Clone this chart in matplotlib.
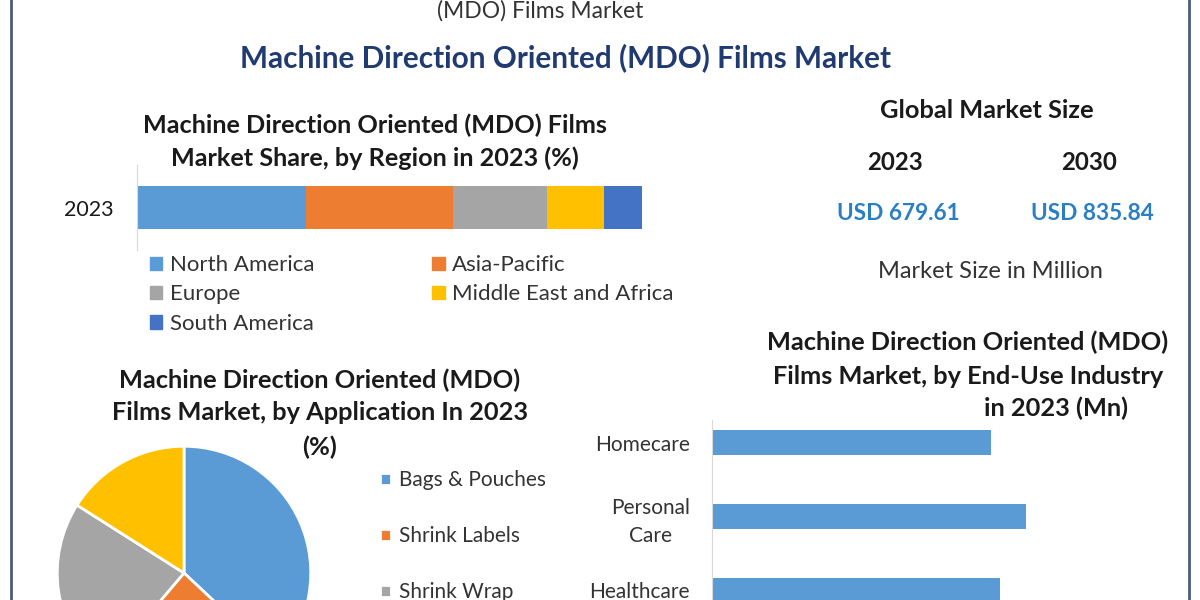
import matplotlib.pyplot as plt
from matplotlib.patches import Patch

plt.rcParams["font.family"] = ["Lato", "DejaVu Sans"]

W, H = 1200, 600

# market share by region, 2023 (%)
regions = ["North America", "Asia-Pacific", "Europe", "Middle East and Africa", "South America"]
region_share = [33.5, 29.1, 18.6, 11.3, 7.5]
region_colors = ["#5b9bd5", "#ed7d31", "#a5a5a5", "#ffc000", "#4472c4"]

# share by application, 2023 (%)
applications = ["Bags & Pouches", "Shrink Labels", "Shrink Wrap", "Others"]
application_share = [37.0, 24.2, 22.8, 16.0]
application_colors = ["#5b9bd5", "#ed7d31", "#a5a5a5", "#ffc000"]

# by end-use industry, 2023 (Mn)
end_use = ["Homecare", "Personal\nCare", "Healthcare"]
end_use_mn = [95.5, 107.5, 98.6]

# global market size (USD Mn)
size_years = ["2023", "2030"]
size_values = [679.61, 835.84]

DARK = "#1a1a1a"
TEXT = "#333333"
NAVY = "#203a72"
USD_BLUE = "#2a7fc4"


def box(x0, y0, x1, y1):
    # pixel box (y from top) -> figure fraction
    return [x0 / W, 1 - y1 / H, (x1 - x0) / W, (y1 - y0) / H]


fig = plt.figure(figsize=(12, 6), dpi=100)
fig.patch.set_facecolor("white")

canvas = fig.add_axes([0, 0, 1, 1])
canvas.set_xlim(0, W)
canvas.set_ylim(H, 0)
canvas.axis("off")

# frame lines
for x in (11, 1189):
    canvas.plot([x, x], [0, H], color="#4a5d75", lw=2)

# headers
canvas.text(540, 11, "(MDO) Films Market", ha="center", va="center", fontsize=16.5, color=TEXT)
canvas.text(566, 58, "Machine Direction Oriented (MDO) Films Market", ha="center", va="center",
            fontsize=21.4, fontweight="bold", color=NAVY)

# ---- region share stacked bar ----
canvas.text(375, 125, "Machine Direction Oriented (MDO) Films", ha="center", va="center",
            fontsize=18.2, fontweight="bold", color=DARK)
canvas.text(375, 158, "Market Share, by Region in 2023 (%)", ha="center", va="center",
            fontsize=18.2, fontweight="bold", color=DARK)

ax_r = fig.add_axes(box(137, 165, 642, 250))
ax_r.set_facecolor("none")
left = 0
for name, val, col in zip(regions, region_share, region_colors):
    ax_r.barh([0], [val], left=left, height=1.0, color=col, label=name)
    left += val
ax_r.set_xlim(0, 100)
ax_r.set_ylim(-1, 1)
ax_r.set_xticks([])
ax_r.set_yticks([0], ["2023"], fontsize=15.5, color=DARK)
ax_r.tick_params(axis="y", length=0, pad=17)
for s in ("top", "right", "bottom"):
    ax_r.spines[s].set_visible(False)
ax_r.spines["left"].set_color("#d9d9d9")

handles = [Patch(color=c) for c in region_colors]
order = [0, 2, 4, 1, 3]
fig.legend([handles[i] for i in order], [regions[i] for i in order],
           loc="upper left", bbox_to_anchor=(139 / W, 1 - 244 / H), ncol=2, frameon=False,
           fontsize=16, handlelength=0.55, handleheight=0.55, handletextpad=0.35,
           columnspacing=5.3, labelspacing=0.42, labelcolor=TEXT, borderpad=0)

# ---- global market size ----
canvas.text(987, 110, "Global Market Size", ha="center", va="center",
            fontsize=18.3, fontweight="bold", color=DARK)
for x, yr, val in zip((895, 1089), size_years, size_values):
    canvas.text(x, 162, yr, ha="center", va="center", fontsize=17.3, fontweight="bold", color=DARK)
    canvas.text(x + 3, 214, f"USD {val:.2f}", ha="center", va="center",
                fontsize=16.3, fontweight="bold", color=USD_BLUE)
canvas.text(990, 271, "Market Size in Million", ha="center", va="center", fontsize=17, color=TEXT)

# ---- application pie ----
for y, line in zip((380, 413, 447), ("Machine Direction Oriented (MDO)",
                                     "Films Market, by Application In 2023", "(%)")):
    canvas.text(320, y, line, ha="center", va="center", fontsize=18.3, fontweight="bold", color=DARK)

ax_p = fig.add_axes(box(56, 445, 312, 701))
wedges, _ = ax_p.pie(application_share, colors=application_colors, startangle=90, counterclock=False,
                     wedgeprops=dict(edgecolor="white", linewidth=2))
ax_p.set_xlim(-1.01, 1.01)
ax_p.set_ylim(-1.01, 1.01)

fig.legend(wedges[:3], applications[:3], loc="upper left", bbox_to_anchor=(370 / W, 1 - 460 / H),
           frameon=False, fontsize=15, handlelength=0.5, handleheight=0.5, handletextpad=0.4,
           labelspacing=1.72, labelcolor=TEXT, borderpad=0)

# ---- end-use bar chart ----
canvas.text(968, 342, "Machine Direction Oriented (MDO)", ha="center", va="center",
            fontsize=18.3, fontweight="bold", color=DARK)
canvas.text(968, 377, "Films Market, by End-Use Industry", ha="center", va="center",
            fontsize=18.3, fontweight="bold", color=DARK)
canvas.text(1056, 408, "in 2023 (Mn)", ha="center", va="center",
            fontsize=18.3, fontweight="bold", color=DARK)

ax_b = fig.add_axes(box(712, 420, 1150, 600))
ax_b.set_facecolor("none")
ypos = list(range(len(end_use)))
ax_b.barh(ypos, end_use_mn, height=0.34, color="#5b9bd5")
ax_b.set_xlim(0, 150)
ax_b.set_ylim(2 + 10 / 74, -23 / 74)
ax_b.set_xticks([])
ax_b.set_yticks(ypos, end_use, fontsize=15, color=TEXT)
for lbl in ax_b.get_yticklabels():
    lbl.set_multialignment("center")
    lbl.set_linespacing(1.45)
ax_b.tick_params(axis="y", length=0, pad=16)
for s in ("top", "right", "bottom"):
    ax_b.spines[s].set_visible(False)
ax_b.spines["left"].set_color("#d9d9d9")

fig.savefig("out.png", dpi=100, facecolor="white")
